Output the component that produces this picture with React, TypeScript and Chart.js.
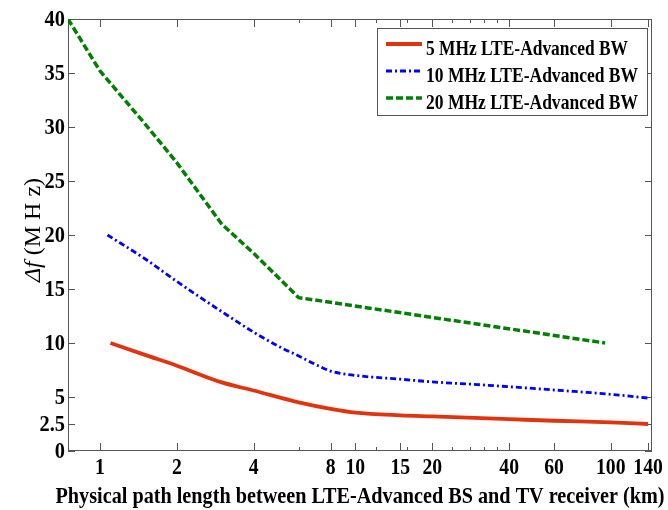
import { useEffect, useRef } from "react";
import { Chart, registerables } from "chart.js";

Chart.register(...registerables);

// ---------- data ----------
const xTickValues = [1, 2, 4, 8, 10, 15, 20, 40, 60, 100, 140];
const xTickLabels = ["1", "2", "4", "8", "10", "15", "20", "40", "60", "100", "140"];
const xMinorTicks = [6, 12, 16, 24, 28, 32, 36];
const yTickValues = [0, 2.5, 5, 10, 15, 20, 25, 30, 35, 40];
const yTickLabels = ["0", "2.5", "5", "10", "15", "20", "25", "30", "35", "40"];

const lte5X = [1.1, 1.5, 2, 3, 4, 6, 8, 10, 15, 20, 40, 60, 100, 140];
const lte5Y = [10, 8.9, 7.9, 6.35, 5.6, 4.5, 3.9, 3.55, 3.3, 3.2, 2.95, 2.8, 2.65, 2.5];

const lte10X = [1.07, 1.5, 2, 3, 4, 5, 6, 7, 8, 10, 15, 20, 30, 40, 60, 100, 140];
const lte10Y = [20, 17.8, 15.7, 12.9, 11.0, 9.7, 8.8, 8.0, 7.4, 7.0, 6.65, 6.4, 6.15, 5.95, 5.65, 5.25, 4.9];

const lte20X = [0.75, 1, 1.5, 2, 3, 4, 6, 95];
const lte20Y = [40, 35.2, 30.3, 26.7, 21, 18.3, 14.2, 10];

const seriesLabels = ["5 MHz LTE-Advanced BW", "10 MHz LTE-Advanced BW", "20 MHz LTE-Advanced BW"];
const seriesColors = ["#E2330F", "#0000FF", "#007F00"];
const seriesDash: number[][] = [[], [6, 3, 2, 3], [7, 3]];
const seriesWidth = [3.8, 2.8, 3.5];

const FRAME = "#555555";
const SERIF = "'Liberation Serif', 'Times New Roman', serif";

function drawScaledText(ctx: CanvasRenderingContext2D, text: string, x: number, y: number, sx: number) {
  ctx.save();
  ctx.translate(x, y);
  ctx.scale(sx, 1);
  ctx.fillText(text, 0, 0);
  ctx.restore();
}

const decorPlugin = {
  id: "decor",
  beforeDatasetsDraw(chart: any) {
    const { ctx, chartArea: a, scales } = chart;
    const xs = scales.x;
    const ys = scales.y;
    ctx.save();
    ctx.strokeStyle = FRAME;
    ctx.lineWidth = 1;
    ctx.setLineDash([]);
    ctx.beginPath();
    const xTick = (v: number, len: number) => {
      const px = Math.round(xs.getPixelForValue(v)) + 0.5;
      ctx.moveTo(px, a.bottom);
      ctx.lineTo(px, a.bottom - len);
      ctx.moveTo(px, a.top);
      ctx.lineTo(px, a.top + len);
    };
    xTickValues.forEach((v) => xTick(v, 8));
    xMinorTicks.forEach((v) => xTick(v, 4));
    yTickValues.forEach((v) => {
      const py = Math.round(ys.getPixelForValue(v)) + 0.5;
      ctx.moveTo(a.left, py);
      ctx.lineTo(a.left + 7, py);
      ctx.moveTo(a.right, py);
      ctx.lineTo(a.right - 7, py);
    });
    ctx.stroke();
    ctx.strokeRect(Math.round(a.left) + 0.5, Math.round(a.top) + 0.5, Math.round(a.right - a.left) - 1, Math.round(a.bottom - a.top) - 1);
    ctx.restore();
  },
  afterDraw(chart: any) {
    const { ctx, chartArea: a, scales } = chart;
    const xs = scales.x;
    const ys = scales.y;
    ctx.save();
    ctx.fillStyle = "#000";
    // x tick labels
    ctx.font = `bold 24px ${SERIF}`;
    ctx.textAlign = "center";
    ctx.textBaseline = "alphabetic";
    xTickValues.forEach((v, i) => {
      drawScaledText(ctx, xTickLabels[i], xs.getPixelForValue(v), 474, 0.82);
    });
    // y tick labels
    ctx.textAlign = "right";
    ctx.textBaseline = "middle";
    yTickValues.forEach((v, i) => {
      drawScaledText(ctx, yTickLabels[i], a.left - 3, ys.getPixelForValue(v) + 1, 0.85);
    });
    // x title
    ctx.textAlign = "center";
    ctx.textBaseline = "alphabetic";
    ctx.font = `bold 24px ${SERIF}`;
    ctx.fillText("Physical path length between LTE-Advanced BS and TV receiver (km)", 360, 503, 609);
    // y title
    ctx.save();
    ctx.translate(40, (a.top + a.bottom) / 2 - 5);
    ctx.rotate(-Math.PI / 2);
    ctx.textBaseline = "alphabetic";
    ctx.textAlign = "left";
    const part1 = "\u0394f";
    const part2 = " (M H z)";
    ctx.font = `italic 24px ${SERIF}`;
    const w1 = ctx.measureText(part1).width;
    ctx.font = `24px ${SERIF}`;
    const w2 = ctx.measureText(part2).width;
    const start = -(w1 + w2) / 2;
    ctx.font = `italic 24px ${SERIF}`;
    ctx.fillText(part1, start, 0);
    ctx.font = `24px ${SERIF}`;
    ctx.fillText(part2, start + w1, 0);
    ctx.restore();

    // legend
    const bx = 377, by = 28, bw = 270, bh = 87;
    ctx.fillStyle = "#fff";
    ctx.fillRect(bx, by, bw, bh);
    ctx.strokeStyle = FRAME;
    ctx.lineWidth = 1;
    ctx.setLineDash([]);
    ctx.strokeRect(bx + 0.5, by + 0.5, bw, bh);
    const rowY = [44, 71, 98];
    const widths = [202, 212, 212];
    seriesLabels.forEach((lab, i) => {
      ctx.strokeStyle = seriesColors[i];
      ctx.lineWidth = seriesWidth[i];
      ctx.setLineDash(seriesDash[i]);
      ctx.beginPath();
      ctx.moveTo(386, rowY[i]);
      ctx.lineTo(422, rowY[i]);
      ctx.stroke();
      ctx.setLineDash([]);
      ctx.fillStyle = "#000";
      ctx.font = `bold 22px ${SERIF}`;
      ctx.textAlign = "left";
      ctx.textBaseline = "alphabetic";
      ctx.fillText(lab, 426, rowY[i] + 11, widths[i]);
    });
    ctx.restore();
  },
};

function toPoints(xsArr: number[], ysArr: number[]) {
  return xsArr.map((x, i) => ({ x, y: ysArr[i] }));
}

export default function App() {
  const ref = useRef<HTMLCanvasElement | null>(null);
  useEffect(() => {
    document.body.style.margin = "0";
    const canvas = ref.current;
    if (!canvas) return;
    const chart = new Chart(canvas, {
      type: "line",
      data: {
        datasets: [
          {
            label: seriesLabels[0],
            data: toPoints(lte5X, lte5Y),
            borderColor: seriesColors[0],
            borderWidth: seriesWidth[0],
            borderDash: seriesDash[0],
            pointRadius: 0,
            fill: false,
            cubicInterpolationMode: "monotone",
          },
          {
            label: seriesLabels[1],
            data: toPoints(lte10X, lte10Y),
            borderColor: seriesColors[1],
            borderWidth: seriesWidth[1],
            borderDash: seriesDash[1],
            pointRadius: 0,
            fill: false,
            cubicInterpolationMode: "monotone",
          },
          {
            label: seriesLabels[2],
            data: toPoints(lte20X, lte20Y),
            borderColor: seriesColors[2],
            borderWidth: seriesWidth[2],
            borderDash: seriesDash[2],
            pointRadius: 0,
            fill: false,
            tension: 0,
          },
        ],
      },
      options: {
        animation: false,
        responsive: false,
        layout: { padding: { top: 19, right: 16, left: 0, bottom: 0 } },
        plugins: { legend: { display: false }, tooltip: { enabled: false } },
        scales: {
          x: {
            type: "logarithmic",
            min: 0.75,
            max: 145,
            ticks: { display: false },
            grid: { display: false },
            border: { display: false },
            afterBuildTicks: (s: any) => {
              s.ticks = xTickValues.map((v) => ({ value: v }));
            },
            afterFit: (s: any) => {
              s.height = 59;
            },
          },
          y: {
            type: "linear",
            min: 0,
            max: 40,
            ticks: { display: false },
            grid: { display: false },
            border: { display: false },
            afterBuildTicks: (s: any) => {
              s.ticks = yTickValues.map((v) => ({ value: v }));
            },
            afterFit: (s: any) => {
              s.width = 68;
            },
          },
        },
      } as any,
      plugins: [decorPlugin],
    });
    return () => chart.destroy();
  }, []);
  return (
    <div style={{ width: 668, height: 510, background: "#fff" }}>
      <canvas ref={ref} width={668} height={510} style={{ display: "block" }} />
    </div>
  );
}
